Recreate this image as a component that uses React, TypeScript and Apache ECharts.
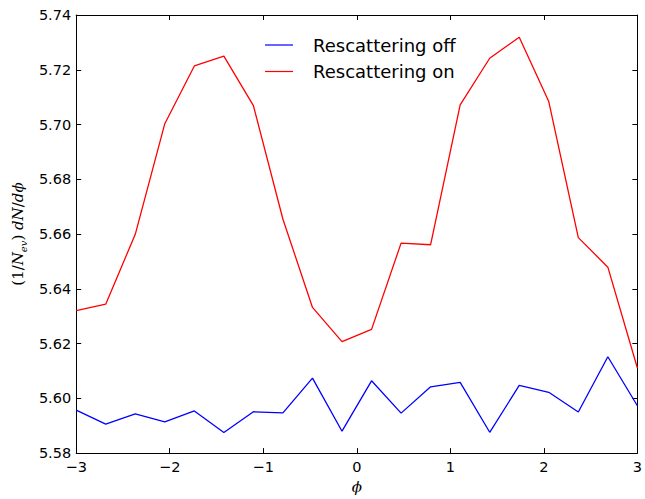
import React, { useEffect, useRef } from "react";
import * as echarts from "echarts";

const phiValues: number[] = [
  -3.0, -2.6842, -2.3684, -2.0526, -1.7368, -1.4211, -1.1053, -0.7895, -0.4737, -0.1579,
  0.1579, 0.4737, 0.7895, 1.1053, 1.4211, 1.7368, 2.0526, 2.3684, 2.6842, 3.0,
];

const rescatteringOff: number[] = [
  5.5957, 5.5906, 5.5943, 5.5914, 5.5954, 5.5875, 5.5951, 5.5947, 5.6074, 5.5880,
  5.6064, 5.5946, 5.6042, 5.6058, 5.5876, 5.6047, 5.6022, 5.5950, 5.6152, 5.5973,
];

const rescatteringOn: number[] = [
  5.6320, 5.6344, 5.6599, 5.7003, 5.7214, 5.7250, 5.7069, 5.6654, 5.6332, 5.6207,
  5.6252, 5.6567, 5.6561, 5.7072, 5.7242, 5.7319, 5.7084, 5.6587, 5.6479, 5.6111,
];

const seriesNames: string[] = ["Rescattering off", "Rescattering on"];

const FONT = "DejaVu Sans";
const MATH = "DejaVu Serif";

export default function App() {
  const ref = useRef<HTMLDivElement>(null);

  useEffect(() => {
    document.body.style.margin = "0";
    if (!ref.current) return;
    const chart = echarts.init(ref.current, undefined, { renderer: "svg" });
    const pairs = (ys: number[]) => phiValues.map((x, i) => [x, ys[i]]);
    const axisLine = { show: true, onZero: false, lineStyle: { color: "#000", width: 1 } };
    const tick = { show: true, inside: true, length: 5, lineStyle: { color: "#000", width: 1 } };

    chart.setOption({
      animation: false,
      backgroundColor: "#fff",
      grid: { left: 69, right: 6, top: 15, bottom: 41, containLabel: false },
      legend: {
        orient: "vertical",
        left: 260,
        top: 31,
        itemWidth: 28,
        itemHeight: 18,
        itemGap: 8.5,
        icon: "path://M0,8.4 L28,8.4 L28,9.6 L0,9.6 Z",
        data: seriesNames,
        textStyle: { fontFamily: FONT, fontSize: 18, color: "#000", padding: [0, 0, 0, 15] },
      },
      xAxis: [
        {
          type: "value",
          position: "bottom",
          min: -3,
          max: 3,
          interval: 1,
          axisLine,
          axisTick: tick,
          splitLine: { show: false },
          axisLabel: {
            margin: 6,
            fontFamily: FONT,
            fontSize: 14.5,
            color: "#000",
            formatter: (v: number) => (v < 0 ? "\u2212" + Math.abs(v) : String(v)),
          },
          name: "\u03D5",
          nameLocation: "middle",
          nameGap: 24,
          nameTextStyle: { fontFamily: MATH, fontStyle: "italic", fontSize: 15, color: "#000" },
        },
        {
          type: "value",
          position: "top",
          min: -3,
          max: 3,
          interval: 1,
          axisLine,
          axisTick: tick,
          axisLabel: { show: false },
          splitLine: { show: false },
        },
      ],
      yAxis: [
        {
          type: "value",
          position: "left",
          min: 5.58,
          max: 5.74,
          interval: 0.02,
          axisLine,
          axisTick: tick,
          splitLine: { show: false },
          axisLabel: {
            margin: 5,
            fontFamily: FONT,
            fontSize: 14.5,
            color: "#000",
            formatter: (v: number) => v.toFixed(2),
          },
          name: "(1/{i|N}{sub|ev}) {i|dN}/{i|d\u03D5}",
          nameLocation: "middle",
          nameRotate: 90,
          nameGap: 44,
          nameTextStyle: {
            fontFamily: MATH,
            fontSize: 15,
            color: "#000",
            lineHeight: 20,
            rich: {
              i: { fontFamily: MATH, fontStyle: "italic", fontSize: 15, color: "#000", lineHeight: 20 },
              sub: { fontFamily: MATH, fontStyle: "italic", fontSize: 10, color: "#000", verticalAlign: "bottom", lineHeight: 20 },
            },
          },
        },
        {
          type: "value",
          position: "right",
          min: 5.58,
          max: 5.74,
          interval: 0.02,
          axisLine,
          axisTick: tick,
          axisLabel: { show: false },
          splitLine: { show: false },
        },
      ],
      series: [
        {
          name: seriesNames[0],
          type: "line",
          data: pairs(rescatteringOff),
          symbol: "none",
          color: "#0000ff",
          lineStyle: { color: "#0000ff", width: 1.3 },
        },
        {
          name: seriesNames[1],
          type: "line",
          data: pairs(rescatteringOn),
          symbol: "none",
          color: "#ff0000",
          lineStyle: { color: "#ff0000", width: 1.3 },
        },
      ],
    });
    return () => chart.dispose();
  }, []);

  return <div ref={ref} style={{ width: 645, height: 499 }} />;
}
